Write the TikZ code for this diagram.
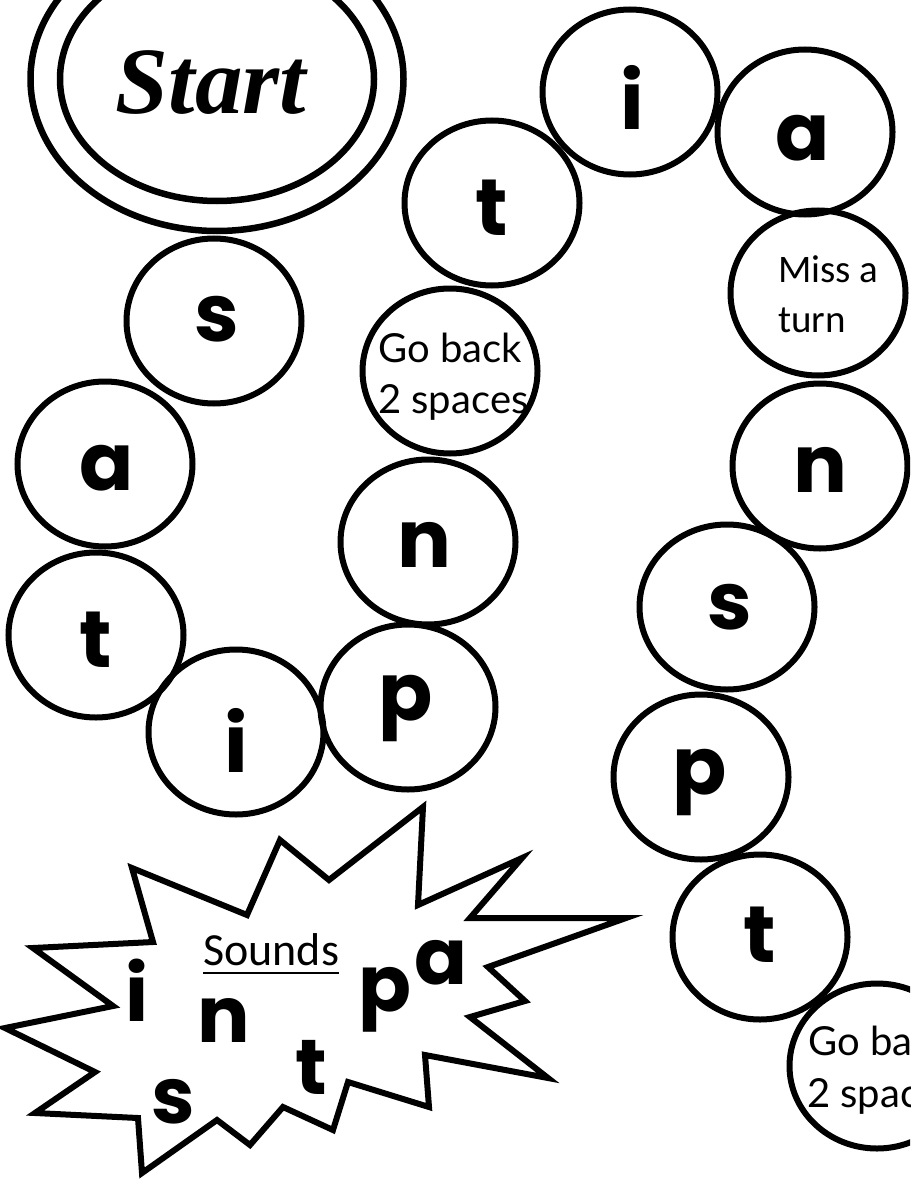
\documentclass[tikz,border=0pt]{standalone}
\usepackage{fontspec}
\setmainfont{Poppins}
\newfontfamily\startfont{Liberation Serif}
\newfontfamily\soundfont{Carlito}
\newfontfamily\notefont{Lato}
\usetikzlibrary{shapes.geometric}
\begin{document}
\begin{tikzpicture}[x=1pt,y=-1pt,
  spot/.style={draw, ellipse, line width=6pt, minimum width=175pt, minimum height=165pt, inner sep=0pt},
  rim/.style={draw, ellipse, line width=6.5pt, inner sep=0pt},
  letter/.style={inner sep=0pt, font=\fontsize{80}{80}\selectfont\bfseries},
  note/.style={anchor=base west, inner sep=0pt, font=\notefont\fontsize{40}{46}\selectfont},
  miss/.style={anchor=base west, inner sep=0pt, font=\soundfont\fontsize{39}{50}\selectfont},
  burst/.style={draw, line width=6pt, line join=miter},
  bl/.style={inner sep=0pt, font=\fontsize{78}{78}\selectfont\bfseries}]
\useasboundingbox (0,0) rectangle (910,1185);
\clip (0,0) rectangle (910,1185);
\fill[white] (0,0) rectangle (910,1185);

% Start
\node[rim, minimum width=373pt, minimum height=304pt] (startout) at (217,79) {};
\node[rim, minimum width=314pt, minimum height=244pt] (startin) at (217,79) {};
\node[inner sep=0pt, font=\startfont\bfseries\itshape\fontsize{95}{95}\selectfont] (starttxt) at (211,83) {Start};

% spaces
\node[spot] (cs1) at (214,321) {};
\node[letter] (ls1) at (217,319) {s};
\node[spot] (ca1) at (105,464) {};
\node[letter] (la1) at (107,468) {a};
\node[spot] (ct1) at (96,635) {};
\node[letter] (lt1) at (96,640) {t};
\node[spot] (ci1) at (236,732) {};
\node[letter] (li1) at (236,740) {i};
\node[spot] (cp1) at (408,707) {};
\node[letter] (lp1) at (406,708) {p};
\node[spot] (cn1) at (428,542) {};
\node[letter] (ln1) at (424,545) {n};
\node[spot] (cg1) at (450,371) {};
\node[note] (g1a) at (378,362) {Go back};
\node[note] (g1b) at (378,413) {2 spaces};
\node[spot] (ct2) at (492,203) {};
\node[letter] (lt2) at (492,208) {t};
\node[spot] (ci2) at (630,92) {};
\node[letter] (li2) at (632,97) {i};
\node[spot] (ca2) at (805,132) {};
\node[letter] (la2) at (803,138) {a};
\node[spot] (cm) at (818,293) {};
\node[miss] (ma) at (778,282) {Miss a};
\node[miss] (mb) at (778,332) {turn};
\node[spot] (cn2) at (820,466) {};
\node[letter] (ln2) at (820,470) {n};
\node[spot] (cs2) at (727,607) {};
\node[letter] (ls2) at (730,607) {s};
\node[spot] (cp2) at (701,777) {};
\node[letter] (lp2) at (700,782) {p};
\node[spot] (ct3) at (760,937) {};
\node[letter] (lt3) at (760,935) {t};
\node[spot] (cg2) at (877,1066) {};
\node[note] (g2a) at (808,1055) {Go back};
\node[note] (g2b) at (807,1107) {2 spaces};

% starburst
\draw[burst] (132,868) -- (247,915) -- (280,840) -- (329,880) -- (423,807)
  -- (418,905) -- (522,858) -- (470,918) -- (626,918) -- (488,967)
  -- (525,1001) -- (470,1017) -- (548,1078) -- (425,1055) -- (429,1107)
  -- (348,1082) -- (333,1130) -- (283,1107) -- (250,1145) -- (217,1120)
  -- (142,1173) -- (138,1118) -- (35,1113) -- (95,1072) -- (5,1028)
  -- (113,1006) -- (33,948) -- (153,942) -- cycle;

\node[anchor=base west, inner sep=0pt, font=\soundfont\fontsize{46}{46}\selectfont] (snd) at (203,965) {Sounds};
\draw[line width=2.7pt] ([yshift=-8pt]snd.base west) -- ([yshift=-8pt]snd.base east);
\node[bl] (bi) at (137.5,990) {i};
\node[bl] (bn) at (224,1020) {n};
\node[bl] (bs) at (173,1102) {s};
\node[bl] (bt) at (311,1067) {t};
\node[bl] (bp) at (385,1000) {p};
\node[bl] (ba) at (441,963) {a};
\end{tikzpicture}
\end{document}
